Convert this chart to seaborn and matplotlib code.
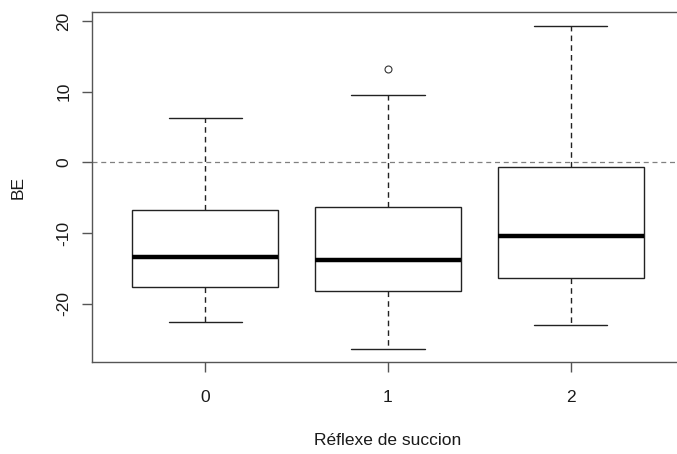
import matplotlib
matplotlib.use("Agg")
import matplotlib.pyplot as plt
import seaborn as sns
import pandas as pd

# five-number summaries, one entry per group
groups = ["0", "1", "2"]
whisker_low = [-22.5, -26.4, -22.9]
q1 = [-17.6, -18.1, -16.3]
medians = [-13.36, -13.8, -10.34]
q3 = [-6.75, -6.23, -0.7]
whisker_high = [6.23, 9.49, 19.35]

# points outside the whiskers
outlier_group = ["1"]
outlier_values = [13.2]

# long table for seaborn (5 points per group gives exactly these quartiles)
rows = []
for g, lo, a, m, b, hi in zip(groups, whisker_low, q1, medians, q3, whisker_high):
    for v in (lo, a, m, b, hi):
        rows.append({"reflexe": g, "BE": v})
df = pd.DataFrame(rows)

sns.set_style("white")
plt.rcParams["font.family"] = ["Liberation Sans", "DejaVu Sans"]
plt.rcParams["axes.unicode_minus"] = False

fig = plt.figure(figsize=(6.77, 4.54), dpi=100)
ax = fig.add_axes([92 / 677, 92 / 454, 592 / 677, 349.5 / 454])

# reference line at zero, behind the boxes
ax.axhline(0, color="#808080", linestyle=(0, (4, 3)), linewidth=0.9, zorder=0)

sns.boxplot(data=df, x="reflexe", y="BE", order=groups, width=0.8,
            color="white", linecolor="#222222", linewidth=1.0,
            showfliers=False,
            medianprops=dict(color="black", linewidth=3.2),
            whiskerprops=dict(linestyle=(0, (4, 3))),
            ax=ax)

sns.stripplot(x=outlier_group, y=outlier_values, order=groups, jitter=False,
              color="white", edgecolor="#333333", linewidth=0.8, size=5, ax=ax)

ax.set_xlim(-0.62, 2.62)
ax.set_ylim(-28.2, 21.2)
ax.set_yticks([-20, -10, 0, 10, 20])

for side in ["left", "top", "bottom"]:
    ax.spines[side].set_visible(True)
    ax.spines[side].set_color("#555555")
    ax.spines[side].set_linewidth(1.0)
ax.spines["right"].set_visible(False)

ax.tick_params(direction="out", length=7, width=1, color="#555555",
               labelsize=12.5, labelcolor="#1a1a1a",
               left=True, bottom=True)
ax.tick_params(axis="x", pad=13.5)
ax.tick_params(axis="y", pad=8, labelrotation=90)
for lab in ax.get_yticklabels():
    lab.set_va("center")

ax.set_xlabel("Réflexe de succion", fontsize=12.5, color="#1a1a1a", labelpad=20)
ax.set_ylabel("BE", fontsize=12.5, color="#1a1a1a", labelpad=22)

fig.savefig("out.png", dpi=100)
